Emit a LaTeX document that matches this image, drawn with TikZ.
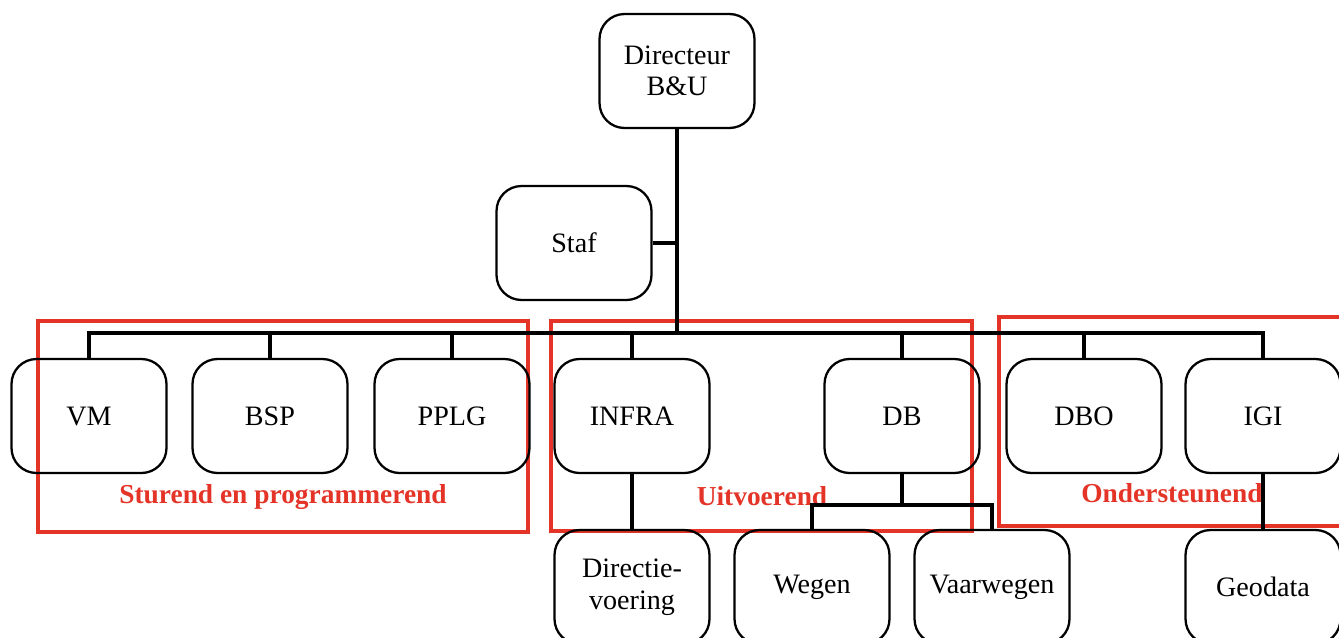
\documentclass[tikz,border=0pt]{standalone}
\usepackage{fontspec}
\setmainfont{Liberation Serif}
\usepackage{xcolor}
\usepackage{tikz}
\usetikzlibrary{calc,positioning}
\definecolor{groupred}{RGB}{228,52,40}
\tikzset{%
	unit/.style    = {draw, rectangle, rounded corners=0.5cm, line width=1.3pt, minimum width=3.1cm, minimum height=2.28cm, align=center, font=\fontsize{16}{18}\selectfont},
	link/.style    = {line width=2.8pt},
	group/.style   = {draw=groupred, line width=2.2pt},
	grouplabel/.style = {text=groupred, font=\fontsize{15.6}{18}\selectfont\bfseries},
}
\begin{document}
\begin{tikzpicture}[x=0.02cm,y=-0.02cm]
	\clip (0,0) rectangle (1339,637);
	% groups
	\draw[group] (38,321) rectangle (528,532);
	\draw[group] (551,321) rectangle (972,531);
	\draw[group] (999,317) rectangle (1350,526);
	\node[grouplabel] (sturend) at (283,497) {Sturend en programmerend};
	\node[grouplabel] (uitvoer) at (762,496) {Uitvoerend};
	\node[grouplabel] (onderst) at (1172,493) {Ondersteunend};
	
	% units
	\node[unit] (dir) at (677,71) {Directeur\\B\&U};
	\node[unit] (staf) at (574,243) {Staf};
	\node[unit] (vm) at (89,416) {VM};
	\node[unit] (bsp) at (270,416) {BSP};
	\node[unit] (pplg) at (452,416) {PPLG};
	\node[unit] (infra) at (632,416) {INFRA};
	\node[unit] (db) at (902,416) {DB};
	\node[unit] (dbo) at (1084,416) {DBO};
	\node[unit] (igi) at (1263,416) {IGI};
	\node[unit] (dirv) at (632,587) {Directie-\\voering};
	\node[unit] (wegen) at (812,587) {Wegen};
	\node[unit] (vaarw) at (992,587) {Vaarwegen};
	\node[unit] (geo) at (1263,587) {Geodata};
	
	% lines
	\coordinate (bus) at (677,333);
	\coordinate (split) at (902,505);
	\draw[link] (dir) -- (bus);
	\draw[link] (staf) -- (staf -| bus);
	\draw[link] (vm.north) |- (bus) -| (igi.north);
	\foreach \n in {bsp,pplg,infra,db,dbo}
		\draw[link] (\n.north) -- (\n.north |- bus);
	\draw[link] (infra) -- (dirv);
	\draw[link] (db) -- (split);
	\draw[link] (wegen.north) |- (split) -| (vaarw.north);
	\draw[link] (igi) -- (geo);
\end{tikzpicture}
\end{document}
